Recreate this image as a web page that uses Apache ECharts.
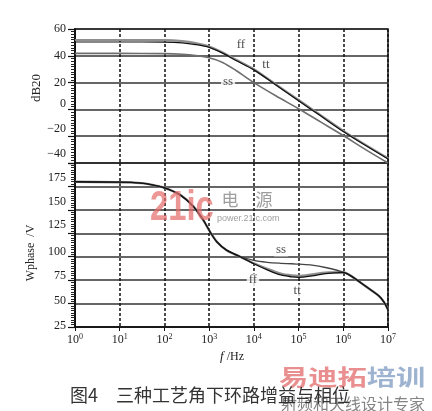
<!DOCTYPE html>
<html><head><meta charset="utf-8">
<script src="https://cdn.jsdelivr.net/npm/echarts@6/dist/echarts.min.js"></script>
<style>html,body{margin:0;padding:0;background:#fff}#c{width:432px;height:411px}</style>
</head><body><div id="c"></div>
<script>
// ---- data ----
const gainFreq = [1, 10, 100, 250, 500, 1000, 2000, 4000, 1e4, 3.16e4, 1e5, 3.16e5, 1e6, 3.16e6, 1e7];
const gainFF = [51.8, 51.8, 51.7, 51.0, 49.5, 47.0, 42.5, 37.0, 30.0, 18.5, 7.0, -4.5, -16.0, -26.5, -36.5];
const gainTT = [50.3, 50.3, 50.2, 49.7, 48.4, 46.3, 42.0, 36.5, 29.5, 18.0, 6.5, -5.0, -16.5, -27.0, -37.0];
const gainSS = [41.8, 41.8, 41.6, 41.1, 40.2, 38.5, 35.0, 29.0, 20.0, 10.0, 0.5, -9.5, -19.5, -30.0, -40.0];

const phaseFreq = [1, 10, 30, 50, 100, 224, 447, 741, 1050, 1480, 2450, 4900, 1e4, 2e4, 4e4, 7e4, 1e5, 2e5, 4e5, 1e6, 1.6e6, 2.5e6, 4e6, 6.3e6, 8e6, 1e7];
const phaseFF = [180, 179.5, 178.5, 177, 173.5, 166, 153.5, 139, 126.5, 116, 107, 100, 93, 87, 82, 80, 79.5, 81, 83, 83.5, 78.5, 72, 65, 58, 52, 43.5];
const phaseTT = [180, 179.5, 178.5, 177, 173.5, 166, 153.5, 139, 126.5, 116, 107, 100, 92.5, 86, 80.5, 78.5, 78, 79.5, 82, 83, 78.5, 72, 65, 58, 52, 43.5];
const phaseSS = [180, 179.5, 178.5, 177, 173.5, 166, 153.5, 139, 126.5, 116, 107, 100.5, 96, 94, 93, 92.5, 92, 91, 88.5, 83.5, 78.5, 72, 65, 58, 52, 43.5];

const gainTicks = [60, 40, 20, 0, -20, -40];
const phaseTicks = [175, 150, 125, 100, 75, 50, 25];
const decadeExps = [0, 1, 2, 3, 4, 5, 6, 7];

// curve tags [name, frequency, value]
const gainTags = [['ff', 5130, 48.1], ['tt', 18600, 33.1], ['ss', 2650, 21.0]];
const phaseTags = [['ss', 40700, 107.2], ['ff', 9550, 75.2], ['tt', 93000, 63.4]];

// ---- styling ----
const serif = "'Liberation Serif','DejaVu Serif',serif";
const cjk = "'Noto Sans CJK SC','Noto Sans CJK JP',sans-serif";
const labOffTop = {'60': 0, '40': 0, '20': 0, '0': 6, '-20': 7, '-40': 9};
const labOffBot = {'175': 9, '150': 8, '125': 8, '100': 5, '75': 4, '50': 3, '25': 1};
const rich = {};
for (let i = 0; i <= 12; i++) rich['p' + i] = {fontFamily: serif, fontSize: 12, color: '#222', padding: [0, 0, 2 * i, 0]};

function yLab(offs, ticks) {
  return function (v) {
    if (ticks.indexOf(v) < 0) return '';
    const o = offs[String(v)] || 0;
    const t = v < 0 ? '\u2212' + Math.abs(v) : String(v);
    return '{p' + o + '|' + t + '}';
  };
}
const zip = (xs, ys) => xs.map((x, i) => [x, ys[i]]);

const vSplit = {show: true, lineStyle: {type: [3, 2], color: '#111', width: 1.5}};
const hSplit = {show: true, lineStyle: {color: '#333', width: 1.5}};

function yAxisBase(grid, min, max, interval, offs, ticks) {
  return {
    gridIndex: grid, type: 'value', min: min, max: max, interval: interval,
    axisLine: {show: true, lineStyle: {color: '#111', width: 2}},
    axisTick: {show: true, length: 7, lineStyle: {color: '#111', width: 1.2}},
    minorTick: {show: true, splitNumber: 10, length: 4, lineStyle: {color: '#222', width: 1}},
    splitLine: hSplit,
    axisLabel: {formatter: yLab(offs, ticks), rich: rich, margin: 9}
  };
}

function curve(name, xi, yi, xs, ys, color, width, z) {
  return {name: name, type: 'line', xAxisIndex: xi, yAxisIndex: yi, data: zip(xs, ys),
    symbol: 'none', smooth: 0.3, lineStyle: {color: color, width: width}, z: z, silent: true};
}
function tags(xi, yi, list) {
  return {type: 'scatter', xAxisIndex: xi, yAxisIndex: yi, symbolSize: 1, z: 6, silent: true,
    itemStyle: {color: 'rgba(0,0,0,0)'},
    data: list.map(t => ({name: t[0], value: [t[1], t[2]]})),
    label: {show: true, position: 'inside', formatter: '{b}', fontFamily: serif, fontSize: 13,
      color: '#222', backgroundColor: '#fff', padding: [0, 2]}};
}

const chart = echarts.init(document.getElementById('c'), null, {renderer: 'canvas'});
chart.setOption({
  backgroundColor: '#fff',
  animation: false,
  grid: [
    {left: 75, top: 29, width: 313, height: 134, show: true, borderColor: '#111', borderWidth: 1.5, backgroundColor: 'transparent'},
    {left: 75, top: 163, width: 313, height: 164, show: true, borderColor: '#111', borderWidth: 1.5, backgroundColor: 'transparent'}
  ],
  xAxis: [
    {gridIndex: 0, type: 'log', logBase: 10, min: 1, max: 1e7, splitNumber: 7,
      axisLine: {show: false}, axisTick: {show: false}, axisLabel: {show: false}, splitLine: vSplit},
    {gridIndex: 1, type: 'log', logBase: 10, min: 1, max: 1e7, splitNumber: 7,
      axisLine: {show: true, lineStyle: {color: '#111', width: 1.5}},
      axisTick: {show: true, length: 4, lineStyle: {color: '#111'}},
      splitLine: vSplit,
      axisLabel: {margin: 6, formatter: function (v) {
          const e = Math.round(Math.log10(v));
          if (decadeExps.indexOf(e) < 0) return '';
          return '{b|10}{s|' + e + '}';
        },
        rich: {b: {fontFamily: serif, fontSize: 12, color: '#222', lineHeight: 14},
               s: {fontFamily: serif, fontSize: 8, color: '#222', verticalAlign: 'top', lineHeight: 9}}}}
  ],
  yAxis: [
    yAxisBase(0, -40, 60, 20, labOffTop, gainTicks),
    yAxisBase(1, 25, 200, 25, labOffBot, phaseTicks)
  ],
  series: [
    curve('ff', 0, 0, gainFreq, gainFF, '#8e8e8e', 2.2, 3),
    curve('ss', 0, 0, gainFreq, gainSS, '#6e6e6e', 1.6, 3),
    curve('tt', 0, 0, gainFreq, gainTT, '#111', 1.2, 4),
    curve('ff', 1, 1, phaseFreq, phaseFF, '#8e8e8e', 2.4, 3),
    curve('ss', 1, 1, phaseFreq, phaseSS, '#444', 1.3, 3),
    curve('tt', 1, 1, phaseFreq, phaseTT, '#111', 1.3, 4),
    tags(0, 0, gainTags),
    tags(1, 1, phaseTags)
  ],
  graphic: [
    {type: 'text', x: 37, y: 88, rotation: Math.PI / 2, z: 10,
      style: {text: 'dB20', font: '13px ' + serif, fill: '#222', align: 'center', verticalAlign: 'middle'}},
    {type: 'text', x: 31, y: 253, rotation: Math.PI / 2, z: 10,
      style: {text: 'Wphase  /V', font: '12px ' + serif, fill: '#222', align: 'center', verticalAlign: 'middle'}},
    {type: 'text', x: 232, y: 357, z: 10,
      style: {text: '{i|f} /Hz', align: 'center', verticalAlign: 'middle',
        rich: {i: {font: 'italic 13px ' + serif, fill: '#222'}}, font: '12px ' + serif, fill: '#222'}},
    {type: 'text', x: 70, y: 395, z: 10,
      style: {text: '图4　三种工艺角下环路增益与相位', font: '18px ' + cjk, fill: '#333', align: 'left', verticalAlign: 'middle'}},
    // watermarks
    {type: 'text', x: 150, y: 208, scaleX: 0.78, z: 8,
      style: {text: '21ic', font: 'bold 42px "Liberation Sans",sans-serif', fill: 'rgba(228,110,110,0.72)', align: 'left', verticalAlign: 'middle'}},
    {type: 'text', x: 247, y: 200, z: 8,
      style: {text: '电　源', font: '17px ' + cjk, fill: 'rgba(140,140,140,0.85)', align: 'center', verticalAlign: 'middle'}},
    {type: 'text', x: 217, y: 219, z: 8,
      style: {text: 'power.21ic.com', font: '9px "Liberation Sans",sans-serif', fill: 'rgba(140,140,140,0.85)', align: 'left', verticalAlign: 'middle'}},
    {type: 'text', x: 279, y: 377, scaleX: 1.33, z: 9,
      style: {text: '{r|易迪拓}{b|培训}', align: 'left', verticalAlign: 'middle',
        rich: {r: {font: 'bold 22px ' + cjk, fill: 'rgba(226,100,100,0.72)'},
               b: {font: 'bold 22px ' + cjk, fill: 'rgba(120,150,190,0.72)'}}}},
    {type: 'text', x: 281, y: 404, z: 9,
      style: {text: '射频和天线设计专家', font: '16px ' + cjk, fill: 'rgba(110,110,110,0.85)', align: 'left', verticalAlign: 'middle'}}
  ]
});
</script></body></html>
